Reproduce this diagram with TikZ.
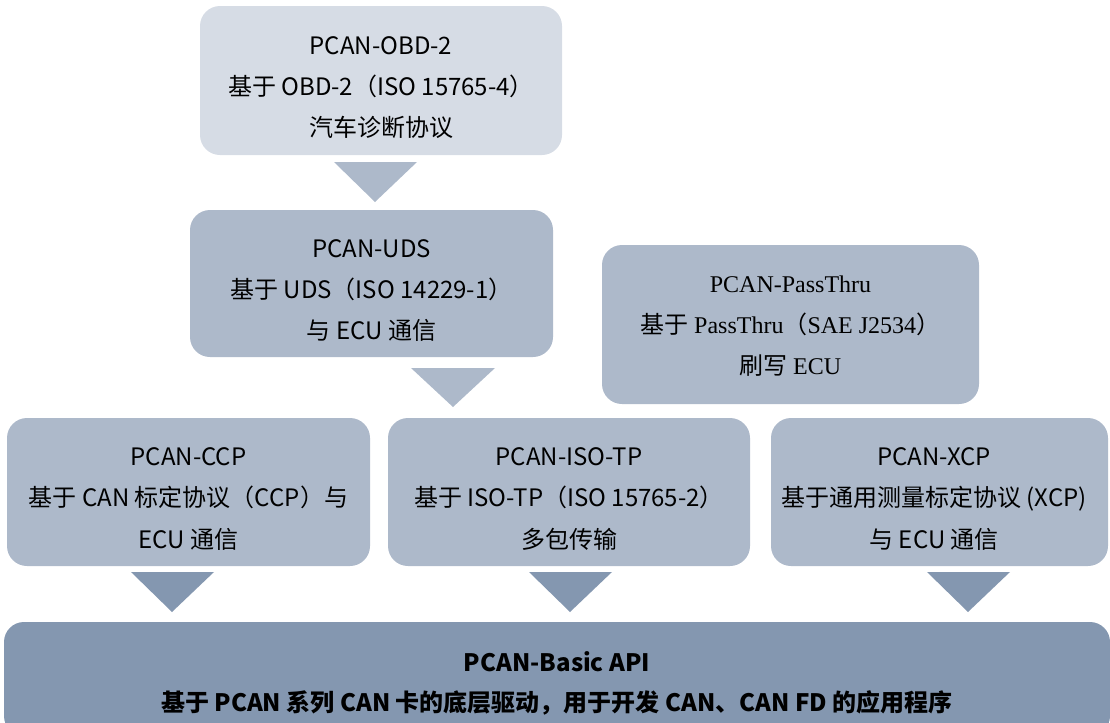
\documentclass[tikz,border=0pt]{standalone}
\usepackage{fontspec}
\setmainfont{Noto Sans CJK SC}
\newfontfamily\latinserif{Liberation Serif}
\definecolor{boxlight}{HTML}{D6DCE5}
\definecolor{boxmid}{HTML}{ADB9CA}
\definecolor{boxdark}{HTML}{8497B0}
\tikzset{
  layer/.style={rectangle, rounded corners=15pt, inner sep=0pt},
  layertext/.style={inner sep=0pt, align=center, yshift=-5.25pt,
    font=\fontsize{18}{31}\selectfont},
}
\begin{document}
\begin{tikzpicture}[x=0.75pt,y=-0.75pt]
        \useasboundingbox (0,0) rectangle (1110,722);
        % protocol layers
        \node[layer, fill=boxlight, minimum width=271.5pt, minimum height=111.75pt,
            label={[layertext]center:{PCAN-OBD-2\\基于 OBD-2（ISO 15765-4）\\汽车诊断协议}}] (obd) at (381,80.5) {};
        \node[layer, fill=boxmid, minimum width=272.25pt, minimum height=110.25pt,
            label={[layertext]center:{PCAN-UDS\\基于 UDS（ISO 14229-1）\\与 ECU 通信}}] (uds) at (371.5,283.5) {};
        \node[layer, fill=boxmid, minimum width=282.75pt, minimum height=119.25pt,
            label={[layertext,yshift=4pt]center:{{\latinserif PCAN-PassThru}\\基于 {\latinserif PassThru}（{\latinserif SAE J2534}）\\刷写 {\latinserif ECU}}}] (passthru) at (790.5,324.5) {};
        \node[layer, fill=boxmid, minimum width=272.25pt, minimum height=111pt,
            label={[layertext]center:{PCAN-CCP\\基于 CAN 标定协议（CCP）与\\ECU 通信}}] (ccp) at (188.5,492) {};
        \node[layer, fill=boxmid, minimum width=271.5pt, minimum height=111pt,
            label={[layertext]center:{PCAN-ISO-TP\\基于 ISO-TP（ISO 15765-2）\\多包传输}}] (isotp) at (569,492) {};
        \node[layer, fill=boxmid, minimum width=252.75pt, minimum height=111pt,
            label={[layertext,xshift=-4pt]center:{PCAN-XCP\\基于通用测量标定协议 (XCP)\\与 ECU 通信}}] (xcp) at (939.5,492) {};
        \node[layer, fill=boxdark, minimum width=829.5pt, minimum height=85.5pt,
            label={[layertext,yshift=2pt,font=\fontsize{18}{29.5}\selectfont\bfseries]center:{PCAN-Basic API\\基于 PCAN 系列 CAN 卡的底层驱动，用于开发 CAN、CAN FD 的应用程序}}] (basic) at (557,679) {};
        % arrows between layers
        \fill[boxmid] (334,162) -- (417,162) -- (375,202) -- cycle;
        \fill[boxmid] (411,368) -- (495,368) -- (453,407) -- cycle;
        \fill[boxdark] (131,572) -- (214,572) -- (172,612) -- cycle;
        \fill[boxdark] (529,572) -- (612,572) -- (570,612) -- cycle;
        \fill[boxdark] (927,572) -- (1010,572) -- (968,612) -- cycle;
\end{tikzpicture}
\end{document}
